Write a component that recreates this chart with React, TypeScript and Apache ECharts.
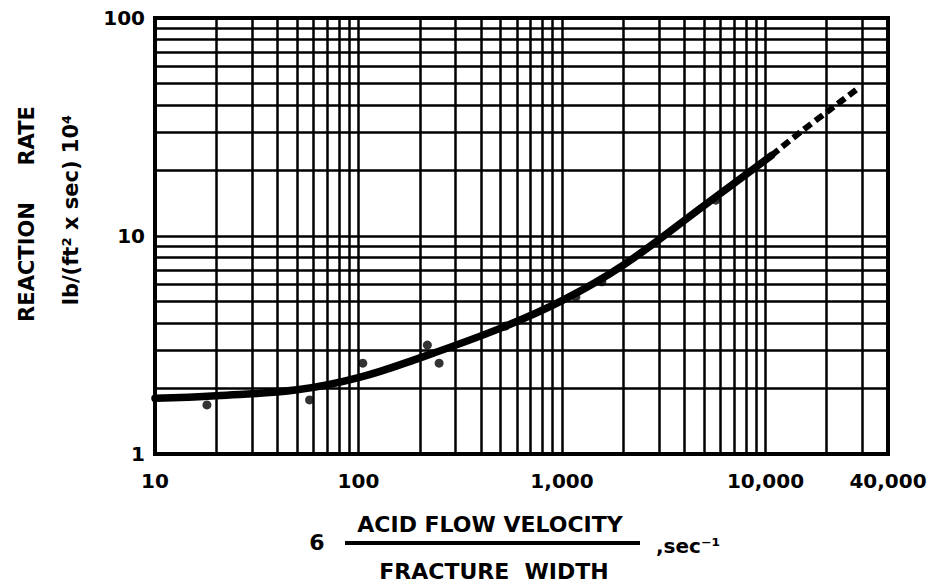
import React, { useEffect, useRef } from "react";
import * as echarts from "echarts";

// Solid fitted curve (x = 6·velocity/width, y = reaction rate ×10^4)
const curveX = [10, 20, 50, 100, 200, 500, 1000, 2000, 5000, 10700];
const curveY = [1.8, 1.85, 1.97, 2.24, 2.76, 3.78, 5.05, 7.35, 13.8, 23.4];
// Dashed extrapolation
const dashX = [10700, 15000, 20400, 28600];
const dashY = [23.4, 30.2, 37.5, 47.7];
// Measured points
const pointX = [18, 57.5, 105, 218, 249, 528, 1170, 1570, 5700];
const pointY = [1.68, 1.77, 2.61, 3.16, 2.61, 3.86, 5.25, 6.16, 14.6];

// Log graph-paper minor rulings
const xMinorGrid = [
  20, 30, 40, 50, 60, 70, 80, 90,
  200, 300, 400, 500, 600, 700, 800, 900,
  2000, 3000, 4000, 5000, 6000, 7000, 8000, 9000,
  20000, 30000,
];
const yMinorGrid = [2, 3, 4, 5, 6, 7, 8, 9, 20, 30, 40, 50, 60, 70, 80, 90];

const X_MIN = 10;
const X_MAX = 40000;
const Y_MIN = 1;
const Y_MAX = 100;

const FONT = "DejaVu Sans";

export default function App() {
  const ref = useRef<HTMLDivElement>(null);

  useEffect(() => {
    if (!ref.current) return;
    const chart = echarts.init(ref.current, undefined, { renderer: "svg" });

    const gridStyle = { color: "#000", width: 2.5, type: "solid" as const };
    const labelStyle = {
      color: "#000",
      fontFamily: FONT,
      fontWeight: "bold" as const,
      fontSize: 20,
    };

    const option: echarts.EChartsOption = {
      animation: false,
      backgroundColor: "#fff",
      grid: {
        left: 155,
        right: 56,
        top: 18,
        bottom: 133,
        show: true,
        borderColor: "#000",
        borderWidth: 4,
        backgroundColor: "transparent",
      },
      xAxis: {
        type: "log",
        logBase: 10,
        min: X_MIN,
        max: X_MAX,
        axisLine: { show: true, lineStyle: { color: "#000", width: 4 } },
        axisTick: { show: false },
        splitLine: { show: true, lineStyle: gridStyle },
        axisLabel: {
          ...labelStyle,
          margin: 17,
          showMinLabel: true,
          showMaxLabel: true,
          formatter: (v: number) => Math.round(v).toLocaleString("en-US"),
        },
      },
      yAxis: {
        type: "log",
        logBase: 10,
        min: Y_MIN,
        max: Y_MAX,
        axisLine: { show: true, lineStyle: { color: "#000", width: 4 } },
        axisTick: { show: false },
        splitLine: { show: true, lineStyle: gridStyle },
        axisLabel: {
          ...labelStyle,
          margin: 10,
          formatter: (v: number) => String(Math.round(v)),
        },
      },
      series: [
        {
          type: "line",
          name: "grid",
          data: [],
          z: 1,
          silent: true,
          markLine: {
            silent: true,
            symbol: "none",
            animation: false,
            label: { show: false },
            lineStyle: gridStyle,
            emphasis: { disabled: true },
            data: [
              ...xMinorGrid.map((v) => ({ xAxis: v })),
              ...yMinorGrid.map((v) => ({ yAxis: v })),
            ],
          },
        },
        {
          type: "line",
          name: "curve",
          data: curveX.map((x, i) => [x, curveY[i]]),
          smooth: 0.4,
          showSymbol: false,
          lineStyle: { color: "#000", width: 7.5, cap: "round" },
          z: 5,
        },
        {
          type: "line",
          name: "extrapolation",
          data: dashX.map((x, i) => [x, dashY[i]]),
          smooth: 0.3,
          showSymbol: false,
          lineStyle: { color: "#000", width: 6, type: [9, 5] },
          z: 5,
        },
        {
          type: "scatter",
          name: "data",
          data: pointX.map((x, i) => [x, pointY[i]]),
          symbol: "circle",
          symbolSize: 9,
          itemStyle: { color: "#000" },
          z: 6,
        },
      ],
      graphic: [
        {
          type: "text",
          x: 27,
          y: 214,
          rotation: Math.PI / 2,
          style: {
            text: "REACTION     RATE",
            fill: "#000",
            font: `bold 21px "${FONT}"`,
            align: "center",
            verticalAlign: "middle",
          },
        },
        {
          type: "text",
          x: 71,
          y: 210,
          rotation: Math.PI / 2,
          style: {
            text: "lb/(ft² x sec) 10⁴",
            fill: "#000",
            font: `bold 21px "${FONT}"`,
            align: "center",
            verticalAlign: "middle",
          },
        },
        {
          type: "text",
          x: 317,
          y: 542,
          style: {
            text: "6",
            fill: "#000",
            font: `bold 22px "${FONT}"`,
            align: "center",
            verticalAlign: "middle",
          },
        },
        {
          type: "text",
          x: 490,
          y: 524,
          style: {
            text: "ACID FLOW VELOCITY",
            fill: "#000",
            font: `bold 22px "${FONT}"`,
            align: "center",
            verticalAlign: "middle",
          },
        },
        {
          type: "line",
          shape: { x1: 345, y1: 543, x2: 640, y2: 543 },
          style: { stroke: "#000", lineWidth: 4 },
        },
        {
          type: "text",
          x: 494,
          y: 571,
          style: {
            text: "FRACTURE  WIDTH",
            fill: "#000",
            font: `bold 22px "${FONT}"`,
            align: "center",
            verticalAlign: "middle",
          },
        },
        {
          type: "text",
          x: 656,
          y: 546,
          style: {
            text: ",sec⁻¹",
            fill: "#000",
            font: `bold 20px "${FONT}"`,
            align: "left",
            verticalAlign: "middle",
          },
        },
      ],
    };

    chart.setOption(option);
    return () => chart.dispose();
  }, []);

  return <div ref={ref} style={{ width: 944, height: 587, position: "absolute", left: 0, top: 0 }} />;
}
